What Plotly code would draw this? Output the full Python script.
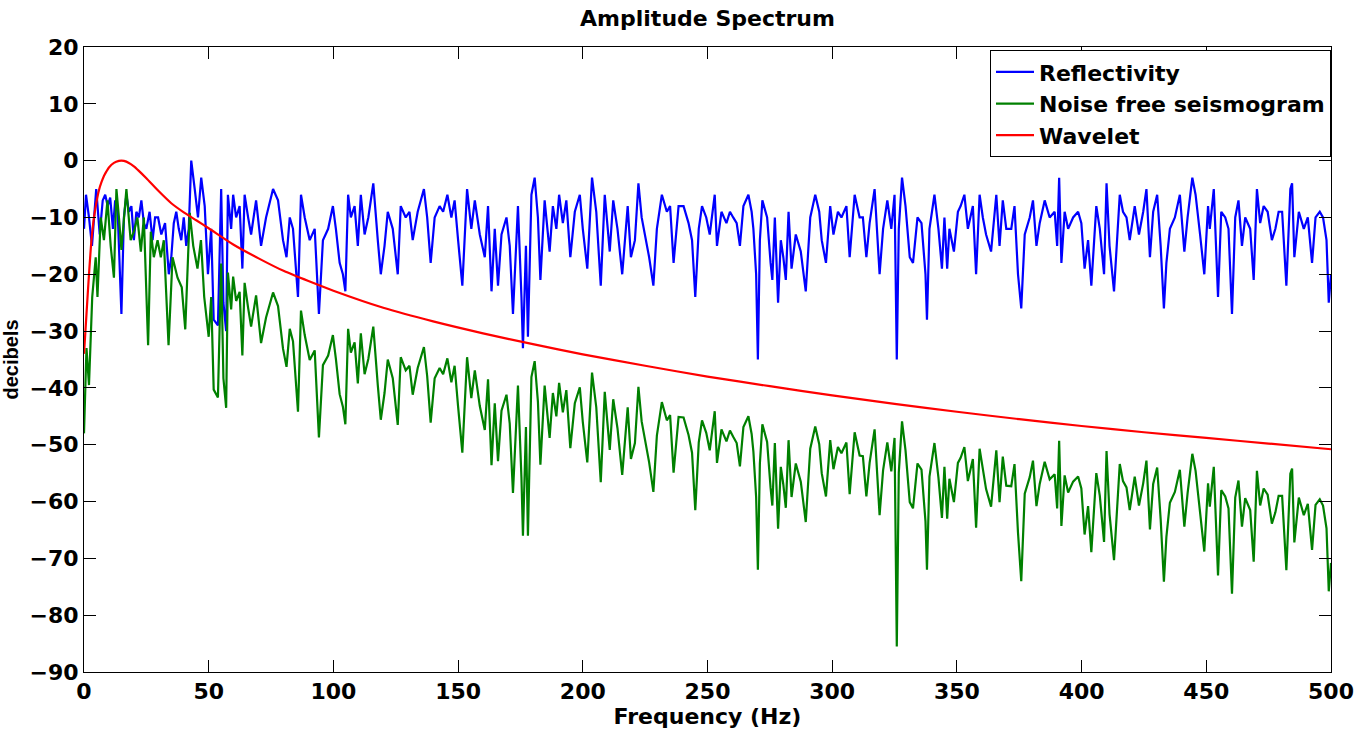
import plotly.graph_objects as go

# ---------------- data ----------------
freq_refl = [0, 0.8, 2, 3.2, 4.9, 6.3, 7.5, 8.5, 9.5, 10.5, 11.6, 12.5, 13.5, 15, 16, 17, 18, 19, 20, 21,
             22, 23, 24, 25, 26.3, 27.5, 28.5, 29.7, 31, 32.5, 34, 35, 36, 37, 38, 39, 40, 41, 42, 43,
             44.4, 45.7, 47, 48.4, 49.7, 51, 52, 53.7, 55, 55.9, 57, 57.7, 59, 59.8, 61, 62.4, 63.5, 64.4, 65.8, 67,
             69, 71, 73, 75.8, 77.8, 79.8, 81.2, 82.5, 83.8, 85.8, 87, 88.5, 90.5, 92.5, 94.2, 95.8, 97.9, 99.8, 101, 102.5,
             103.8, 104.8, 105.9, 107, 108.5, 109.8, 111, 112.5, 114, 116, 117.8, 119, 120.5, 121.8, 123.8, 125.8, 127, 129, 130.5, 131.8,
             133.8, 136.3, 137.6, 139, 140.6, 142.6, 144, 145.7, 147.3, 148.6, 150, 151.7, 153.6, 155.3, 156.7, 158.7, 160.7, 162, 163.4, 164.7,
             166, 167.4, 169.4, 170.7, 172, 174, 175.4, 176, 177.2, 178, 179.4, 180.7, 182, 183, 184.7, 186.7, 188, 189.4, 190.5, 192,
             193.4, 195, 196.8, 198.8, 200, 201.8, 203.7, 205.4, 207.2, 208.8, 210.8, 212.2, 213.9, 215.8, 218, 219.3, 220.9, 222.3, 223.6, 225,
             226.6, 228.3, 229.7, 231.7, 233.7, 235, 236.4, 238.4, 240.4, 242.4, 243.8, 245.1, 246.5, 247.8, 249.5, 250.9, 252.9, 253.8, 255.6, 257.6,
             259, 260.3, 261.7, 263, 264.4, 266.4, 267.7, 268.4, 269.5, 270.2, 271, 272, 273.9, 275.3, 276, 277, 278.3, 279.4, 280.4, 281.4,
             282.5, 283.7, 285.4, 287.4, 289.4, 291.2, 293.2, 294.8, 295.8, 297.5, 299.2, 300.5, 302.3, 303.7, 305.7, 307, 309, 311, 312.3, 313.7,
             315, 317, 319, 320.4, 322.1, 323.7, 325, 325.9, 326.7, 328, 329.4, 331.1, 332.4, 334.2, 335.8, 337.4, 338, 339, 341, 342.6,
             344, 345, 346.1, 347, 348.8, 350.4, 351.5, 353, 354.4, 356.4, 357.7, 359.1, 360.4, 361.7, 363.7, 365.8, 367.1, 368.4, 369.8, 371.8,
             373.1, 374.5, 375.8, 377.2, 379.2, 380.5, 381.9, 383.2, 385.2, 387.2, 389.2, 390.2, 391, 391.9, 393.2, 394.6, 396.6, 398.6, 399.9, 401.2,
             402.6, 403.9, 405.9, 407.3, 409, 410, 411.2, 413, 415.3, 416.6, 418, 419.3, 421.3, 423, 424.7, 426, 427.4, 428.7, 430.3, 431.7,
             433, 434, 435.4, 437.4, 439.4, 441.2, 442.5, 444.4, 445.7, 447.5, 449.2, 450.7, 451.4, 453, 454.7, 456, 457.6, 458.9, 460.3, 461.6,
             462.9, 464.3, 465.6, 467.6, 469, 470.3, 471.6, 473, 474.6, 476.3, 477.7, 479, 480.4, 482.1, 483.7, 484.4, 485.3, 487.1, 489.1, 490.7,
             492.4, 493.8, 495.5, 496.8, 498.2, 499.1, 500]

refl_db = [-12, -6, -10, -15, -5, -13, -7, -6, -8, -6.5, -12, -7, -9, -27, -10, -6, -9, -8, -14, -9,
           -10, -7, -11, -12, -9, -14, -10, -10, -13, -11, -20, -17, -11, -9, -12, -14, -10, -15, -12, 0,
           -5, -10, -3, -8, -20, -12, -28, -29, -5, -25, -30, -6, -12, -6, -10, -8, -19, -6, -10, -13,
           -7, -15, -10, -5, -7, -14, -17, -10, -12, -24, -6, -10, -14, -12, -27, -14, -12, -8, -12, -18,
           -20, -23, -6, -10, -8, -15, -6, -13, -10, -4, -14, -20, -15, -9, -12, -20, -8, -10, -9, -14,
           -9, -5, -10, -18, -10, -8, -9, -6, -10, -7, -14, -22, -5, -12, -7, -13, -17, -8, -23, -12,
           -22, -13, -10, -15, -27, -8, -24, -33, -15, -31, -6, -3, -10, -21, -7, -16, -8, -12, -6, -11,
           -7, -17, -9, -6, -12, -19, -3, -9, -22, -6, -16, -7, -12, -20, -8, -17, -14, -4, -10, -13,
           -17, -22, -12, -6, -9, -8, -18, -8, -8, -11, -14, -24, -12, -8, -10, -13, -6, -15, -9, -11,
           -9, -10, -11, -15, -8, -6, -9, -12, -20, -35, -14, -7, -10, -18, -21, -10, -25, -14, -17, -21,
           -9, -19, -13, -16, -23, -10, -6, -9, -14, -18, -8, -13, -9, -10, -8, -17, -6, -10, -10, -17,
           -11, -5, -20, -12, -7, -12, -6, -35, -12, -3, -8, -17, -18, -10, -11, -20, -28, -12, -6, -12,
           -19, -10, -19, -12, -16, -9, -8, -6, -12, -8, -20, -6, -10, -13, -16, -6, -15, -7, -12, -12,
           -8, -20, -26, -13, -10, -7, -15, -11, -7, -10, -9, -15, -3, -18, -9, -12, -10, -9, -11, -19,
           -14, -22, -8, -12, -20, -4, -15, -23, -6, -9, -10, -14, -8, -13, -9, -5, -17, -9, -6, -15,
           -26, -18, -12, -10, -6, -16, -10, -3, -6, -13, -20, -8, -12, -5, -24, -9, -10, -12, -27, -10,
           -7, -15, -10, -12, -21, -5, -11, -8, -9, -14, -12, -9, -9, -22, -5, -4, -17, -9, -12, -10,
           -18, -10, -9, -10, -14, -25, -20]

freq_seis = [0, 1, 2, 3.3, 4.7, 5.4, 6.7, 8, 9.4, 10.7, 12, 13, 14, 15, 17, 18.7, 20, 21.4, 22.8, 24,
             25.7, 26.8, 28, 29.5, 30.8, 32, 33.9, 35.5, 37.5, 39.2, 40.6, 42.4, 43.8, 45.5, 46.9, 48.2, 50, 51, 52, 53.7,
             55, 55.9, 57, 57.7, 59, 59.8, 61, 62.4, 63.5, 64.4, 65.8, 67, 69, 71, 73, 75.8, 77.8, 79.8, 81.2, 82.5,
             83.8, 85.8, 87, 88.5, 90.5, 92.5, 94.2, 95.8, 97.9, 99.8] + freq_refl[78:]

seis_db = [-48, -33, -39.5, -24, -17, -24, -10, -14, -7, -15, -20.6, -5, -10, -15.7, -5, -14, -12.5, -10, -16, -10,
           -32.5, -12.5, -17, -14, -17, -14, -32.5, -17, -20.6, -22.3, -29.7, -9.2, -15, -19, -14, -24, -31, -24, -40.3, -41.7,
           -18.1, -38.3, -43.5, -19.7, -26.2, -20.4, -24.7, -23.1, -34.3, -21.5, -25.9, -29.2, -23.7, -32.1, -27.6, -23.2, -25.6, -33.1, -36.3, -29.6,
           -31.8, -44.2, -26.4, -30.7, -35.1, -33.4, -48.7, -36, -34.3, -30.7,
           -34.9, -41.1, -43.3, -46.4, -29.6, -33.8, -32, -39.2, -30.4, -37.6, -34.9, -29.2, -39.5, -45.6, -40.9, -35, -38.3, -46.5, -34.6, -36.9,
           -36.1, -41.2, -36.5, -32.8, -37.9, -46.1, -38.3, -36.5, -37.6, -34.8, -39, -36.1, -43.3, -51.4, -34.6, -41.8, -36.9, -43.2, -47.4, -38.5,
           -53.6, -42.7, -52.9, -44, -41.2, -46.3, -58.5, -39.6, -55.8, -66, -46.9, -66, -38.1, -35.3, -42.4, -53.5, -39.6, -48.8, -40.9, -45,
           -39.1, -44.3, -40.4, -50.6, -42.7, -39.9, -46, -53.1, -37.3, -43.4, -56.6, -40.7, -50.9, -42, -47.1, -55.3, -43.4, -52.5, -49.7, -39.8,
           -45.9, -49, -53.1, -58.3, -48.4, -42.5, -45.7, -44.8, -54.9, -45.1, -45.2, -48.3, -51.4, -61.5, -49.6, -45.7, -47.9, -51, -44.1, -53.2,
           -47.3, -49.4, -47.5, -48.6, -49.7, -53.8, -46.9, -45, -48.1, -51.2, -59.2, -72, -53.3, -46.4, -49.5, -57.6, -60.7, -49.7, -64.8, -53.9,
           -57, -61.1, -49.2, -59.2, -53.3, -56.5, -63.6, -50.7, -46.8, -49.9, -55, -59.1, -49.2, -54.3, -50.4, -51.5, -49.6, -58.7, -47.8, -51.9,
           -52, -59.1, -53.2, -47.3, -62.4, -54.5, -49.6, -54.7, -48.8, -85.5, -54.9, -45.9, -51, -60.1, -61.2, -53.3, -54.4, -63.5, -72, -55.6,
           -49.7, -55.8, -62.9, -53.9, -63, -56, -60.1, -53.2, -52.3, -50.4, -56.4, -52.5, -64.6, -50.7, -54.7, -57.8, -60.9, -51, -60.1, -52.1,
           -57.2, -57.3, -53.4, -65.5, -74, -58.6, -55.7, -52.8, -60.8, -56.9, -53, -56.1, -55.2, -61.2, -49.3, -64.3, -55.4, -58.4, -56.5, -55.6,
           -57.7, -65.8, -60.8, -68.9, -55, -59, -67.1, -51.1, -62.2, -70.3, -53.4, -56.4, -57.5, -61.5, -55.6, -60.7, -56.8, -52.8, -64.9, -56.9,
           -54, -63.1, -74.1, -66.2, -60.2, -58.3, -54.4, -64.4, -58.5, -51.6, -54.6, -61.7, -68.8, -56.8, -60.9, -53.9, -73, -58, -59.1, -61.2,
           -76.2, -59.3, -56.3, -64.4, -59.4, -61.5, -70.6, -54.6, -60.7, -57.7, -58.8, -63.9, -61.9, -59, -59, -72.1, -55.1, -54.2, -67.2, -59.3,
           -62.4, -60.4, -68.5, -60.6, -59.6, -60.7, -64.7, -75.8, -70.8]

freq_wav = [0, 1, 2, 3, 4, 5, 6, 7, 8, 9, 10, 12, 14, 15, 16, 18, 20, 22, 25, 30,
            35, 40, 45, 50, 60, 70, 80, 90, 100, 120, 140, 160, 180, 200, 225, 250, 275, 300, 325, 350,
            375, 400, 425, 450, 475, 500]
wav_db = [-34, -27, -20, -14, -10, -7.3, -5.2, -3.8, -2.7, -1.9, -1.2, -0.4, -0.05, 0, -0.05, -0.4, -1, -1.8, -3.1, -5.4,
          -7.5, -9.1, -10.5, -11.9, -14.8, -17.2, -19.4, -21.2, -22.9, -25.9, -28.3, -30.4, -32.3, -34.1, -36.1, -38, -39.7, -41.3, -42.8, -44.2,
          -45.5, -46.7, -47.8, -48.8, -49.8, -50.8]

names = ["Reflectivity", "Noise free seismogram", "Wavelet"]
colors = ["#0000ff", "#008000", "#ff0000"]

# ---------------- figure ----------------
WIDE = "DejaVu Sans, Verdana, sans-serif"
NARROW = "Liberation Sans, Arial, sans-serif"
fig = go.Figure()
fig.add_trace(go.Scatter(x=freq_refl, y=refl_db, mode="lines", name=names[0],
                         legendgroup="a", line=dict(color=colors[0], width=2.2)))
fig.add_trace(go.Scatter(x=freq_seis, y=seis_db, mode="lines", name=names[1],
                         legendgroup="b", line=dict(color=colors[1], width=2.2)))
fig.add_trace(go.Scatter(x=freq_wav, y=wav_db, mode="lines", name=names[2],
                         legendgroup="c", line=dict(color=colors[2], width=2.2, shape="spline", smoothing=0.6)))

axis_common = dict(showline=True, linecolor="black", linewidth=1, mirror="ticks",
                   ticks="inside", ticklen=12, tickcolor="black", tickwidth=1,
                   showgrid=False, zeroline=False, automargin=False,
                   tickfont=dict(family=WIDE, size=22, color="black", weight="bold"))

fig.update_xaxes(range=[0, 500], tick0=0, dtick=50, **axis_common,
                 title=dict(text="Frequency (Hz)", standoff=2,
                            font=dict(family=WIDE, size=22, color="black", weight="bold")))
fig.update_yaxes(range=[-90, 20], tick0=-90, dtick=10, **axis_common,
                 title=dict(text="decibels", standoff=9,
                            font=dict(family=NARROW, size=20, color="black", weight="bold")))

fig.update_layout(
    width=1359, height=731,
    margin=dict(l=84, r=28, t=47, b=59),
    paper_bgcolor="white", plot_bgcolor="white",
    title=dict(text="Amplitude Spectrum", x=0.5, xanchor="center", y=0.975, yanchor="middle",
               xref="paper",
               font=dict(family=WIDE, size=22, color="black", weight="bold")),
    legend=dict(x=1, xanchor="right", y=0.995, yanchor="top",
                bgcolor="white", bordercolor="black", borderwidth=1,
                font=dict(family=WIDE, size=22, color="black", weight="bold"),
                tracegroupgap=0, itemwidth=38),
    showlegend=True,
)

fig.write_html("out.html")
